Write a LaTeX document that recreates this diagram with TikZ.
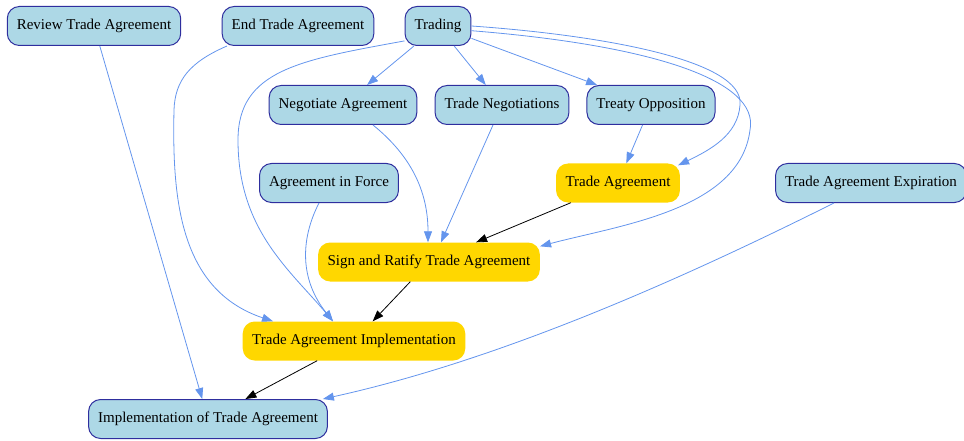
\documentclass[tikz,border=0pt]{standalone}
\usepackage{fontspec}
\setmainfont{Liberation Serif}
\usetikzlibrary{arrows.meta}
\definecolor{boxblue}{HTML}{ADD8E6}
\definecolor{boxline}{HTML}{2E2E9E}
\definecolor{edgeblue}{HTML}{6495ED}
\definecolor{boxgold}{HTML}{FFD700}

\begin{document}
\begin{tikzpicture}[x=1pt,y=-1pt,
    font=\fontsize{15}{17}\selectfont,
    box/.style={rounded corners=12pt,minimum height=39pt,inner xsep=9.5pt},
    plain/.style={box,draw=boxline,fill=boxblue,line width=1pt},
    main/.style={box,fill=boxgold},
    link/.style={-{Triangle[length=11pt,width=8pt]},edgeblue,line width=0.8pt},
    core/.style={-{Triangle[length=11pt,width=8pt]},black,line width=0.8pt}]
\useasboundingbox (0,0) rectangle (964,441);
\node[plain] (review) at (94,26) {Review Trade Agreement};
\node[plain] (ending) at (298,26) {End Trade Agreement};
\node[plain] (trading) at (438,26) {Trading};
\node[plain] (negotiate) at (343,105) {Negotiate Agreement};
\node[plain] (tradeneg) at (502,105) {Trade Negotiations};
\node[plain] (treaty) at (651,105) {Treaty Opposition};
\node[plain] (force) at (329,183) {Agreement in Force};
\node[main] (agreement) at (618,183) {Trade Agreement};
\node[plain] (expiry) at (871,183) {Trade Agreement Expiration};
\node[main] (ratify) at (429,262) {Sign and Ratify Trade Agreement};
\node[main] (implement) at (354,341) {Trade Agreement Implementation};
\node[plain] (implementation) at (208,419) {Implementation of Trade Agreement};

\draw[link] (review) -- (implementation);
\draw[link] ([xshift=-71pt]ending.south) .. controls (190,62) and (175,80) .. (174,110)
    .. controls (172,200) and (180,290) .. ([xshift=-81pt]implement.north);
\draw[link] (trading.204) .. controls (300,60) and (238,70) .. (238,140)
    .. controls (238,230) and (290,270) .. ([xshift=-21pt]implement.north);
\draw[link] (trading) -- (negotiate);
\draw[link] (trading) -- (tradeneg);
\draw[link] (trading) -- (treaty);
\draw[link] (trading.east) .. controls (600,35) and (745,60) .. (740,105)
    .. controls (738,135) and (710,150) .. ([xshift=-2pt,yshift=-2pt]agreement.north east);
\draw[link] (trading.-8) .. controls (650,45) and (760,80) .. (750,130)
    .. controls (740,210) and (620,225) .. ([yshift=-4pt]ratify.north east);
\draw[link] ([xshift=30pt]negotiate.south) .. controls (410,155) and (428,190) .. ([xshift=-1pt]ratify.north);
\draw[link] ([xshift=-9pt]tradeneg.south) -- ([xshift=12pt]ratify.north);
\draw[link] (treaty) -- (agreement);
\draw[link] ([xshift=-10pt]force.south) .. controls (300,240) and (300,280) .. ([xshift=-21pt]implement.north);
\draw[link] ([xshift=-37pt]expiry.south) .. controls (680,280) and (500,360) .. ([xshift=-5pt]implementation.north east);
\draw[core] (agreement) -- (ratify);
\draw[core] (ratify) -- (implement);
\draw[core] (implement) -- (implementation);
\end{tikzpicture}
\end{document}
